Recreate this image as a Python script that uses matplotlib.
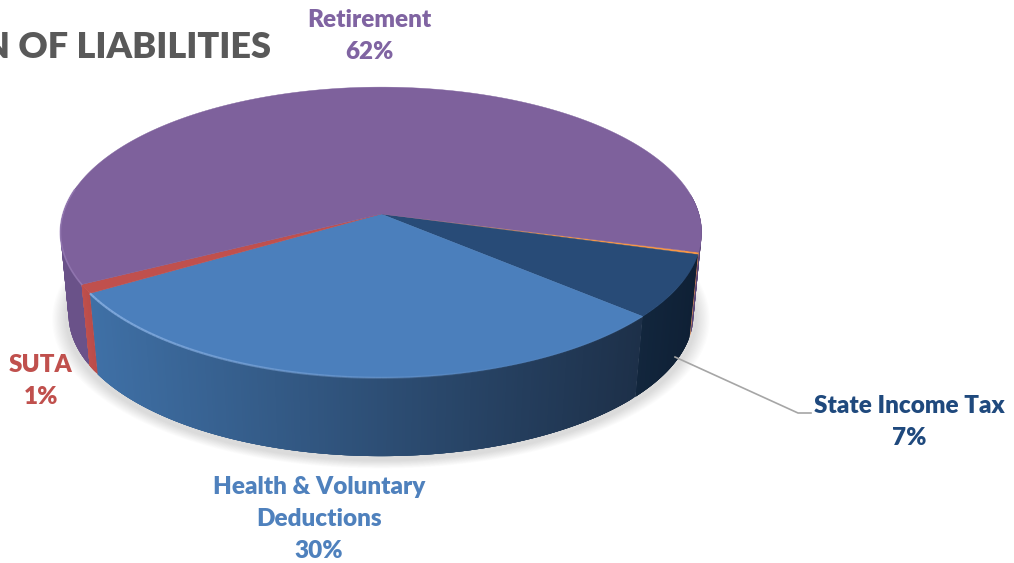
import numpy as np
import matplotlib
matplotlib.use("Agg")
import matplotlib.pyplot as plt
from matplotlib.colors import to_rgb

plt.rcParams["font.family"] = ["Lato", "DejaVu Sans"]

# slices run clockwise from the right hand side of the disc
categories = ["Other", "State Income Tax", "Health & Voluntary\nDeductions", "SUTA", "Retirement"]
shares = [0.25, 7, 30, 1, 62]
percent_labels = ["", "7%", "30%", "1%", "62%"]

top_colors = ["#f79646", "#284b77", "#4b7fbc", "#c0504d", "#7e619c"]
wall_left = ["#f79646", "#12263d", "#3f70a6", "#c0504d", "#6a5289"]
wall_right = ["#f79646", "#0f2035", "#1d3049", "#bb4c49", "#5c4878"]

# disc geometry in figure pixels
CX, CY = 381, 214
RX, RY = 318, 143
PERSP = 0.127
DEPTH = 83
BOTTOM_SCALE = 0.975
START = 15.0


def project(theta_deg, radius=1.0, drop=0.0):
    t = np.radians(theta_deg)
    u = radius * np.cos(t)
    v = radius * np.sin(t)
    w = 1 - PERSP * v
    return CX + RX * u / w, CY + RY * v / w + drop


def blend(c1, c2, f):
    a, b = np.array(to_rgb(c1)), np.array(to_rgb(c2))
    return tuple(a + (b - a) * f)


fig = plt.figure(figsize=(10.14, 5.63), dpi=100)
ax = fig.add_axes([0, 0, 1, 1])
ax.set_xlim(0, 1014)
ax.set_ylim(563, 0)
ax.axis("off")

# soft shadow under the disc
ring = np.linspace(0, 360, 240)
for grow in np.linspace(1.025, 0.985, 12):
    sx, sy = project(ring, grow, DEPTH + 3)
    ax.fill(sx, sy, color="#808080", alpha=0.025, lw=0, zorder=1)

edges = START + np.cumsum([0] + shares) / np.sum(shares) * 360

# walls, built from narrow overlapping strips so the shading can change along the rim
# retirement goes first so the wall beside the state slice stays on top of it
for i in [4, 0, 1, 2, 3]:
    steps = np.append(np.arange(edges[i], edges[i + 1], 0.5), edges[i + 1])
    x_first, x_last = project(edges[i])[0], project(edges[i + 1])[0]
    for a, b in zip(steps[:-1], steps[1:]):
        mid = (a + b) / 2 % 360
        if 190 < mid < 352:
            continue
        b_over = min(b + 1.5, edges[i + 1])
        arc = np.linspace(a, b_over, 5)
        x_top, y_top = project(arc)
        x_low, y_low = project(arc[::-1], BOTTOM_SCALE, DEPTH)
        x0 = project(a)[0]
        if categories[i] == "Retirement":
            # the retirement wall shows at both ends of the disc
            f = 0.0 if x0 < CX else 1.0
        else:
            f = 1 - (x0 - x_first) / (x_last - x_first)
        c = blend(wall_left[i], wall_right[i], np.clip(f, 0, 1))
        ax.fill(np.r_[x_top, x_low], np.r_[y_top, y_low], color=c, lw=0, zorder=2)

# top face
for i in range(len(shares)):
    th = np.linspace(edges[i], edges[i + 1], 200)
    x, y = project(th)
    ax.fill(np.r_[CX, x], np.r_[CY, y], color=top_colors[i], lw=0.3, zorder=3)

# lit rim along the front of the top face, fading towards the right
th = np.linspace(edges[2], edges[3], 120)
x, y = project(th)
fade = np.clip((x - 90) / 420, 0, 1)
for j in range(len(th) - 1):
    ax.plot(x[j:j + 2], y[j:j + 2], color="#8db4e6", lw=1.6, alpha=0.75 * (1 - fade[j]) + 0.05,
            solid_capstyle="butt", zorder=4)
th = np.linspace(edges[4], 190, 30)
x, y = project(th)
ax.plot(x, y, color="#9a7fb8", lw=1.2, alpha=0.7, zorder=4)

# title runs off the left edge
ax.text(271, 47, "N OF LIABILITIES", ha="right", va="center", fontsize=26,
        fontweight="heavy", color="#595959", zorder=6)

label_style = dict(ha="center", va="center", fontsize=17.5, fontweight="heavy", linespacing=1.53, zorder=6)
ax.text(369, 36, categories[4] + "\n" + percent_labels[4], color="#8064a2", **label_style)
ax.text(909, 422, categories[1] + "\n" + percent_labels[1], color="#1f497d", **label_style)
ax.text(319, 519, categories[2] + "\n" + percent_labels[2], color="#4f81bd", **label_style)
ax.text(41, 381, categories[3] + "\n" + percent_labels[3], color="#c0504d", **label_style)

# leader for the state income tax label
ax.plot([675, 798, 811], [357, 413, 413], color="#a6a6a6", lw=1.2, zorder=5)

fig.savefig("out.png", dpi=100, facecolor="white")
